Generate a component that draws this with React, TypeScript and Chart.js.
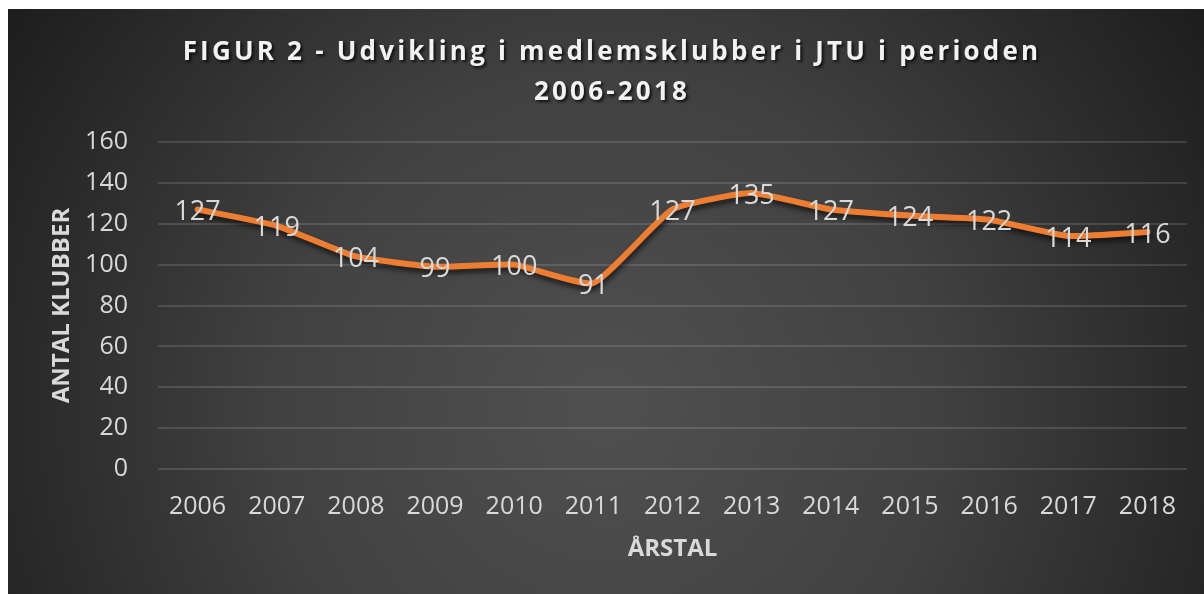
import React, { useEffect, useRef } from "react";
import { Chart, registerables } from "chart.js";

Chart.register(...registerables);

const years = ["2006", "2007", "2008", "2009", "2010", "2011", "2012", "2013", "2014", "2015", "2016", "2017", "2018"];
const clubs = [127, 119, 104, 99, 100, 91, 127, 135, 127, 124, 122, 114, 116];
const titleLines = ["FIGUR 2 - Udvikling i medlemsklubber i JTU i perioden", "2006-2018"];
const yTitle = "ANTAL KLUBBER";
const xTitle = "ÅRSTAL";
const yMin = 0;
const yMax = 160;
const yStep = 20;

const FONT = "'Open Sans', 'Noto Sans', sans-serif";
const TEXT = "#d9d9d9";

const backgroundPlugin = {
  id: "bg",
  beforeDraw(chart: any) {
    const { ctx, width, height } = chart;
    ctx.save();
    const cx = width * 0.5;
    const cy = height * 0.68;
    const g = ctx.createRadialGradient(cx, cy, 0, cx, cy, 740);
    g.addColorStop(0, "#505050");
    g.addColorStop(0.45, "#414141");
    g.addColorStop(1, "#1b1b1b");
    ctx.fillStyle = g;
    ctx.fillRect(0, 0, width, height);
    ctx.restore();
  },
};

const titlePlugin = {
  id: "figTitle",
  afterDraw(chart: any) {
    const { ctx, width } = chart;
    ctx.save();
    ctx.font = `bold 26px ${FONT}`;
    (ctx as any).letterSpacing = "3.2px";
    ctx.textAlign = "center";
    ctx.textBaseline = "alphabetic";
    ctx.fillStyle = "#f2f2f2";
    ctx.shadowColor = "rgba(0,0,0,0.75)";
    ctx.shadowBlur = 3;
    ctx.shadowOffsetX = 2;
    ctx.shadowOffsetY = 2;
    const cx = width / 2 + 6;
    ctx.fillText(titleLines[0], cx, 51);
    ctx.fillText(titleLines[1], cx, 91);
    ctx.restore();
  },
};

const lineShadowPlugin = {
  id: "lineShadow",
  beforeDatasetDraw(chart: any) {
    const ctx = chart.ctx;
    ctx.save();
    ctx.shadowColor = "rgba(0,0,0,0.6)";
    ctx.shadowBlur = 5;
    ctx.shadowOffsetX = 1;
    ctx.shadowOffsetY = 4;
  },
  afterDatasetDraw(chart: any) {
    chart.ctx.restore();
  },
};

const dataLabelPlugin = {
  id: "dataLabels",
  afterDatasetsDraw(chart: any) {
    const { ctx } = chart;
    const meta = chart.getDatasetMeta(0);
    const values = chart.data.datasets[0].data as number[];
    ctx.save();
    ctx.font = `27px ${FONT}`;
    ctx.fillStyle = TEXT;
    ctx.textAlign = "center";
    ctx.textBaseline = "middle";
    meta.data.forEach((pt: any, i: number) => {
      ctx.fillText(String(values[i]), pt.x, pt.y + 3);
    });
    ctx.restore();
  },
};

export default function App() {
  const ref = useRef<HTMLCanvasElement | null>(null);

  useEffect(() => {
    if (!ref.current) return;
    const chart = new Chart(ref.current, {
      type: "line",
      data: {
        labels: years,
        datasets: [
          {
            data: clubs,
            borderColor: "#ED7D31",
            borderWidth: 6,
            tension: 0.15,
            pointRadius: 0,
            fill: false,
            borderCapStyle: "round",
            borderJoinStyle: "round",
          },
        ],
      },
      options: {
        animation: false,
        responsive: true,
        maintainAspectRatio: false,
        layout: { padding: { top: 133, right: 17, bottom: 0, left: 0 } },
        plugins: {
          legend: { display: false },
          title: { display: false },
          tooltip: { enabled: false },
        },
        scales: {
          x: {
            offset: true,
            grid: { display: false, drawTicks: false },
            border: { display: false },
            ticks: {
              color: TEXT,
              font: { family: FONT, size: 25 },
              padding: 23,
              maxRotation: 0,
              autoSkip: false,
            },
            title: {
              display: true,
              text: xTitle,
              color: TEXT,
              font: { family: FONT, size: 24, weight: "bold" },
              padding: { top: 0, bottom: 30 },
            },
            afterFit: (s: any) => {
              s.height = 125;
            },
          },
          y: {
            min: yMin,
            max: yMax,
            grid: { color: "rgba(255,255,255,0.13)", lineWidth: 2, drawTicks: false },
            border: { display: false },
            ticks: {
              stepSize: yStep,
              color: TEXT,
              font: { family: FONT, size: 25 },
              padding: 30,
            },
            title: {
              display: true,
              text: yTitle,
              color: TEXT,
              font: { family: FONT, size: 24, weight: "bold" },
              padding: { top: 40, bottom: 0 },
            },
            afterFit: (s: any) => {
              s.width = 150;
            },
          },
        },
      },
      plugins: [backgroundPlugin, lineShadowPlugin, dataLabelPlugin, titlePlugin],
    } as any);
    return () => chart.destroy();
  }, []);

  return (
    <div style={{ position: "fixed", left: 8, top: 9, width: 1196, height: 585 }}>
      <canvas ref={ref} />
    </div>
  );
}
